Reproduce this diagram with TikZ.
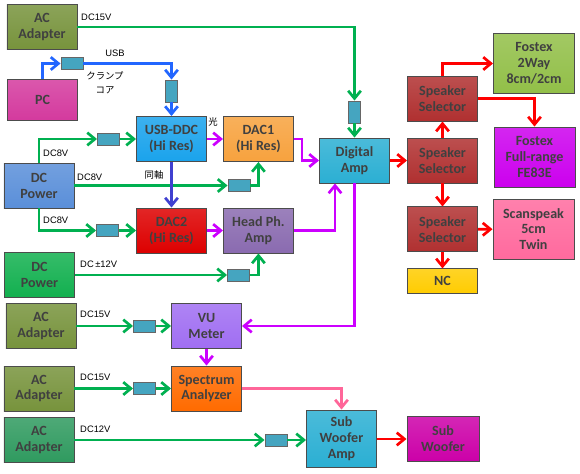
\documentclass[tikz,border=0pt]{standalone}
\usepackage{fontspec}
\setmainfont{Carlito}
\newfontfamily\labfont{Liberation Sans}
\newfontfamily\jpfont{Noto Sans CJK JP}
\usepackage{tikz}
\usetikzlibrary{positioning,arrows.meta,calc}

\definecolor{acol}{HTML}{77933C}
\definecolor{acgc}{HTML}{2F9A5F}
\definecolor{pcc}{HTML}{D43A9E}
\definecolor{ddcc}{HTML}{1AA3EC}
\definecolor{dac1c}{HTML}{F7A23E}
\definecolor{ampc}{HTML}{2BAFD3}
\definecolor{dcpc}{HTML}{5A8FD9}
\definecolor{dac2c}{HTML}{DD0000}
\definecolor{hpac}{HTML}{8A6BB0}
\definecolor{dcgc}{HTML}{12B04F}
\definecolor{vuc}{HTML}{A06EF2}
\definecolor{spac}{HTML}{FF6B00}
\definecolor{swc}{HTML}{CC00A8}
\definecolor{ssc}{HTML}{B03030}
\definecolor{ncc}{HTML}{FFCC00}
\definecolor{fx2c}{HTML}{92BF48}
\definecolor{fxfc}{HTML}{CC00EE}
\definecolor{scsc}{HTML}{FF6A9E}
\definecolor{clampc}{HTML}{45A5C0}
\definecolor{wgreen}{HTML}{00B050}
\definecolor{wusb}{HTML}{2266FF}
\definecolor{wcoax}{HTML}{4040D0}
\definecolor{wsig}{HTML}{CC00FF}
\definecolor{wsub}{HTML}{FF6699}
\definecolor{wspk}{HTML}{FF0000}

\begin{document}
\begin{tikzpicture}[
        x=0.03cm, y=-0.03cm,
        font=\bfseries\fontsize{12}{13.6}\selectfont,
        >={Straight Barb[length=2.3mm,width=3.8mm]},
        block/.style={
            rectangle,
            draw=black!70,
            line width=0.8pt,
            align=center,
            inner sep=1pt,
            text=black!75,
            minimum width=2.1cm,
            minimum height=1.35cm,
            top color=#1!85!white,
            bottom color=#1
        },
        spkbox/.style={
            block=#1,
            minimum width=2.43cm,
            minimum height=1.8cm
        },
        clamp/.style={
            rectangle,
            draw=black!60,
            line width=0.8pt,
            fill=clampc,
            inner sep=0pt,
            minimum width=0.66cm,
            minimum height=0.36cm
        },
        lab/.style={
            font=\labfont\mdseries\fontsize{8}{12}\selectfont,
            inner sep=0pt,
            align=center
        },
        wire/.style={->, line width=2.3pt, draw=#1},
        pwr/.style={wire=wgreen},
        usb/.style={wire=wusb},
        coax/.style={wire=wcoax},
        sig/.style={wire=wsig},
        subw/.style={wire=wsub},
        spk/.style={wire=wspk}
    ]

        \useasboundingbox (0,0) rectangle (580,474);

        % Sources and players
        \node[block=acol] (ac1) at (42,27) {AC\\Adapter};
        \node[block=pcc, minimum height=1.23cm] (pc) at (42.5,99.5) {PC};
        \node[block=ddcc] (ddc) at (171.5,139) {USB-DDC\\(Hi Res)};
        \node[block=dac1c, right=0.48cm of ddc] (dac1) {DAC1\\(Hi Res)};
        \node[block=ampc] (damp) at (354.5,160.5) {Digital\\Amp};
        \node[block=dcpc] (dcp1) at (39,185.5) {DC\\Power};
        \node[block=dac2c] (dac2) at (171.5,230.5) {DAC2\\(Hi Res)};
        \node[block=hpac, right=0.48cm of dac2] (hpa) {Head Ph.\\Amp};
        \node[block=dcgc] (dcp2) at (39.5,275) {DC\\Power};

        % Meters and sub woofer
        \node[block=acol] (ac2) at (41,326) {AC\\Adapter};
        \node[block=vuc] (vu) at (206.5,326) {VU\\Meter};
        \node[block=acol] (ac3) at (39,388.5) {AC\\Adapter};
        \node[block=spac] (spa) at (206.5,388.5) {Spectrum\\Analyzer};
        \node[block=acgc] (ac4) at (39,440) {AC\\Adapter};
        \node[block=ampc, minimum height=1.71cm] (swa) at (341.5,438.5) {Sub\\Woofer\\Amp};
        \node[block=swc, minimum width=2.16cm] (sw) at (443,439) {Sub\\Woofer};

        % Speaker selectors
        \node[block=ssc] (ss2) at (442.5,160.5) {Speaker\\Selector};
        \node[block=ssc, above=0.48cm of ss2] (ss1) {Speaker\\Selector};
        \node[block=ssc, below=0.69cm of ss2] (ss3) {Speaker\\Selector};
        \node[block=ncc, minimum height=0.75cm, below=0.48cm of ss3] (nc) {NC};
        \node[spkbox=fx2c] (fx2) at (534,63.5) {Fostex\\2Way\\8cm/2cm};
        \node[spkbox=fxfc] (fxf) at (534.5,157) {Fostex\\Full-range\\FE83E};
        \node[spkbox=scsc] (scs) at (533.5,229) {Scanspeak\\5cm\\Twin};

        % Clamp cores
        \node[clamp] (cUsbH) at (72,63.5) {};
        \node[clamp, minimum width=0.36cm, minimum height=0.66cm] (cUsbV) at (171.5,91) {};
        \node[clamp, minimum width=0.38cm, minimum height=0.66cm] (cAmp) at (354.5,112) {};
        \node[clamp] (cDdc) at (108.5,139) {};
        \node[clamp] (cDac1) at (239,185.5) {};
        \node[clamp] (cDac2) at (107.5,230.5) {};
        \node[clamp] (cHpa) at (238.5,275) {};
        \node[clamp] (cVu) at (144.5,326) {};
        \node[clamp] (cSpa) at (144.5,388.5) {};
        \node[clamp] (cSwa) at (276,440) {};

        % Power lines
        \draw[pwr] (ac1.east) -| (cAmp.north);
        \draw[pwr] (cAmp) -- (damp);
        \draw[pwr] (dcp1.north) |- (cDdc.west);
        \draw[pwr] (cDdc) -- (ddc);
        \draw[pwr] (dcp1.east) -- (cDac1.west);
        \draw[pwr] (cDac1.east) -| (dac1.south);
        \draw[pwr] (dcp1.south) |- (cDac2.west);
        \draw[pwr] (cDac2) -- (dac2);
        \draw[pwr] (dcp2.east) -- (cHpa.west);
        \draw[pwr] (cHpa.east) -| (hpa.south);
        \draw[pwr] (ac2) -- (cVu);
        \draw[pwr] (cVu) -- (vu);
        \draw[pwr] (ac3) -- (cSpa);
        \draw[pwr] (cSpa) -- (spa);
        \draw[pwr] (ac4.east |- cSwa) -- (cSwa.west);
        \draw[pwr] (cSwa.east) -- (swa.west |- cSwa);

        % USB
        \draw[usb] (pc.north) |- (cUsbH.west);
        \draw[usb] (cUsbH.east) -| (cUsbV.north);
        \draw[usb] (cUsbV) -- (ddc);

        % Digital / analog signal
        \draw[sig] (ddc) -- (dac1);
        \draw[coax] (ddc) -- (dac2);
        \draw[sig] (dac1.east) -- ++(8,0) |- (damp.west);
        \draw[sig] (dac2) -- (hpa);
        \draw[sig] (hpa.east) -| ($(damp.south)+(-19.5,0)$);
        \draw[sig] (damp.south) |- (vu.east);
        \draw[sig] (vu) -- (spa);
        \draw[subw] (spa.east) -| (swa.north);

        % Speaker lines
        \draw[spk] (damp) -- (ss2);
        \draw[spk] (ss2) -- (ss1);
        \draw[spk] (ss2) -- (ss3);
        \draw[spk] (ss3) -- (nc);
        \draw[spk] (ss1.north) |- (fx2.west);
        \draw[spk] (ss1.east) -| (fxf.north);
        \draw[spk] (ss3) -- (scs);
        \draw[spk] (swa.east |- sw.west) -- (sw.west);

        % Line labels
        \node[lab, anchor=west] (l1) at (81,17) {DC15V};
        \node[lab] (l2) at (115,53) {USB};
        \node[lab] (l3) at (105,83) {\jpfont クランプ\\\jpfont コア};
        \node[lab] (l4) at (213,122) {\jpfont 光};
        \node[lab, anchor=west] (l5) at (43,153) {DC8V};
        \node[lab, anchor=west] (l6) at (77,177) {DC8V};
        \node[lab] (l7) at (154,175) {\jpfont 同軸};
        \node[lab, anchor=west] (l8) at (43,220) {DC8V};
        \node[lab, anchor=west] (l9) at (80,264) {DC\,±12V};
        \node[lab, anchor=west] (l10) at (80,314) {DC15V};
        \node[lab, anchor=west] (l11) at (80,377) {DC15V};
        \node[lab, anchor=west] (l12) at (80,429) {DC12V};

    \end{tikzpicture}
\end{document}
